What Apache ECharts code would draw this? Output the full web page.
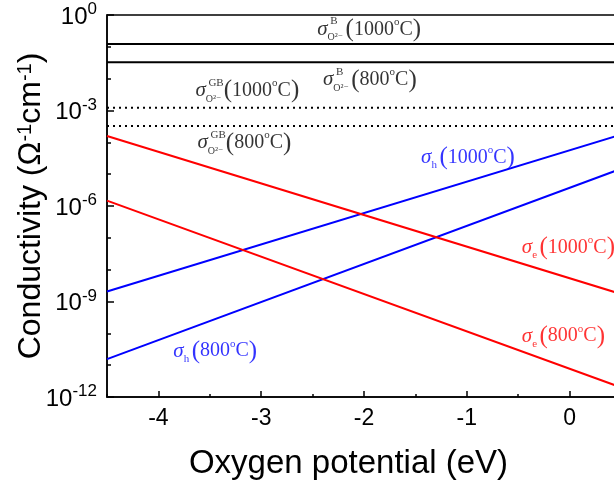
<!DOCTYPE html>
<html>
<head>
<meta charset="utf-8">
<script src="https://cdn.jsdelivr.net/npm/echarts@6.0.0/dist/echarts.min.js"></script>
<style>
  html, body { margin: 0; padding: 0; background: #fff; }
  #chart { width: 614px; height: 483px; }
</style>
</head>
<body>
<div id="chart"></div>
<script>
// x range of the lines (eV)
const xEnds = [-4.5, 0.5];

// conductivity at the two ends (Ω^-1 cm^-1)
const holes1000 = [2.07e-9, 1.75e-4];
const holes800 = [1.55e-11, 1.48e-5];
const elec1000 = [1.58e-4, 1.72e-9];
const elec800 = [1.48e-6, 2.0e-12];

// ionic conductivities (flat lines)
const bulk1000 = 0.123;
const bulk800 = 0.0327;
const gb1000 = 1.23e-3;
const gb800 = 3.28e-4;

const xMajorTicks = [-4, -3, -2, -1, 0];

const serif = "'Liberation Serif', 'DejaVu Serif', serif";
const sans = "'Liberation Sans', Arial, sans-serif";

function pairs(ys) {
  return xEnds.map((x, i) => [x, ys[i]]);
}
function flat(v) {
  return xEnds.map(x => [x, v]);
}

// annotation anchors: [x, log10(y), subscript, superscript, temperature, colour]
const notes = [
  [-2.455, -0.455, "O", "B", "1000", "#000"],
  [-2.40, -2.04, "O", "B", "800", "#000"],
  [-3.64, -2.385, "O", "GB", "1000", "#000"],
  [-3.62, -4.02, "O", "GB", "800", "#000"],
  [-1.445, -4.47, "h", "", "1000", "#0000ff"],
  [-0.465, -7.31, "e", "", "1000", "#ff0000"],
  [-0.465, -10.09, "e", "", "800", "#ff0000"],
  [-3.855, -10.56, "h", "", "800", "#0000ff"]
];

const noteRich = {
  s: { fontFamily: serif, fontStyle: "italic", fontSize: 21, lineHeight: 26 },
  sub: { fontFamily: serif, fontSize: 10, verticalAlign: "bottom", lineHeight: 16 },
  subh: { fontFamily: serif, fontSize: 11, verticalAlign: "bottom", lineHeight: 16 },
  p: { fontFamily: serif, fontSize: 25, lineHeight: 26 },
  t: { fontFamily: serif, fontSize: 20, lineHeight: 26 },
  o: { fontFamily: serif, fontSize: 11, verticalAlign: "top", lineHeight: 20 },
  sp: { fontFamily: serif, fontSize: 10 }
};

const noteData = [];
notes.forEach(n => {
  const sub = n[2] === "O" ? "{sub|O²⁻}" : "{subh|" + n[2] + "}";
  noteData.push({
    value: [n[0], Math.pow(10, n[1])],
    label: {
      color: n[5],
      formatter: "{s|σ}" + sub + "{sp| }{p|(}{t|" + n[4] + "}{o|o}{t|C}{p|)}"
    }
  });
  if (n[3]) {
    noteData.push({
      value: [n[0], Math.pow(10, n[1])],
      label: {
        color: n[5],
        offset: [13, -8],
        fontFamily: serif,
        fontSize: 11,
        formatter: n[3]
      }
    });
  }
});

const chart = echarts.init(document.getElementById("chart"));

const option = {
  animation: false,
  grid: {
    left: 107,
    right: -7,
    top: 15,
    bottom: 86,
    outerBoundsMode: "none",
    containLabel: false,
    show: true,
    borderColor: "#000",
    borderWidth: 1.5
  },
  xAxis: [
    {
      type: "value",
      min: -4.5,
      max: 0.5,
      interval: 0.5,
      name: "Oxygen potential (eV)",
      nameLocation: "middle",
      nameGap: 50,
      nameTextStyle: {
        fontFamily: sans,
        fontSize: 33,
        color: "#000",
        padding: [0, 31, 0, 0]
      },
      axisLine: { onZero: false, lineStyle: { color: "#000", width: 1.5 } },
      axisTick: { inside: true, length: 3, lineStyle: { color: "#000", width: 1.5 } },
      axisLabel: {
        color: "#000",
        fontFamily: sans,
        fontSize: 23,
        margin: 10,
        formatter: v => (Number.isInteger(v) ? String(v) : "")
      },
      splitLine: { show: false }
    },
    {
      type: "value",
      min: -4.5,
      max: 0.5,
      interval: 0.5,
      position: "bottom",
      axisLine: { show: false, onZero: false },
      axisTick: {
        inside: true,
        length: 6,
        customValues: xMajorTicks,
        lineStyle: { color: "#000", width: 1.5 }
      },
      axisLabel: { show: false },
      splitLine: { show: false }
    }
  ],
  yAxis: [
    {
      type: "log",
      logBase: 10,
      min: 1e-12,
      max: 1,
      interval: 3,
      name: "Conductivity (Ω{sup|-1}cm{sup|-1})",
      nameLocation: "middle",
      nameGap: 60,
      nameMoveOverlap: false,
      nameTextStyle: {
        fontFamily: sans,
        fontSize: 32,
        color: "#000",
        rich: {
          sup: { fontFamily: sans, fontSize: 20, verticalAlign: "top", color: "#000" }
        }
      },
      axisLine: { onZero: false, lineStyle: { color: "#000", width: 1.5 } },
      axisTick: { inside: true, length: 7, lineStyle: { color: "#000", width: 1.5 } },
      axisLabel: {
        color: "#000",
        margin: 10,
        formatter: v => "{b|10}{e|" + Math.round(Math.log10(v)) + "}",
        rich: {
          b: { fontFamily: sans, fontSize: 24, lineHeight: 28, verticalAlign: "bottom" },
          e: { fontFamily: sans, fontSize: 17, lineHeight: 28, verticalAlign: "top" }
        }
      },
      splitLine: { show: false }
    },
    {
      type: "log",
      logBase: 10,
      min: 1e-12,
      max: 1,
      interval: 1,
      position: "left",
      axisLine: { show: false, onZero: false },
      axisTick: { inside: true, length: 4, lineStyle: { color: "#000", width: 1.5 } },
      axisLabel: { show: false },
      splitLine: { show: false }
    }
  ],
  series: [
    { type: "line", data: pairs(holes1000), symbol: "none", lineStyle: { color: "#0000ff", width: 2 } },
    { type: "line", data: pairs(holes800), symbol: "none", lineStyle: { color: "#0000ff", width: 2 } },
    { type: "line", data: pairs(elec1000), symbol: "none", lineStyle: { color: "#ff0000", width: 2 } },
    { type: "line", data: pairs(elec800), symbol: "none", lineStyle: { color: "#ff0000", width: 2 } },
    { type: "line", data: flat(bulk1000), symbol: "none", lineStyle: { color: "#000", width: 2 } },
    { type: "line", data: flat(bulk800), symbol: "none", lineStyle: { color: "#000", width: 2 } },
    { type: "line", data: flat(gb1000), symbol: "none", lineStyle: { color: "#000", width: 2, type: [2, 4] } },
    { type: "line", data: flat(gb800), symbol: "none", lineStyle: { color: "#000", width: 2, type: [2, 4] } },
    {
      type: "scatter",
      symbolSize: 0,
      silent: true,
      data: noteData,
      label: {
        show: true,
        position: "right",
        distance: 0,
        rich: noteRich
      }
    }
  ]
};

chart.setOption(option);
</script>
</body>
</html>
